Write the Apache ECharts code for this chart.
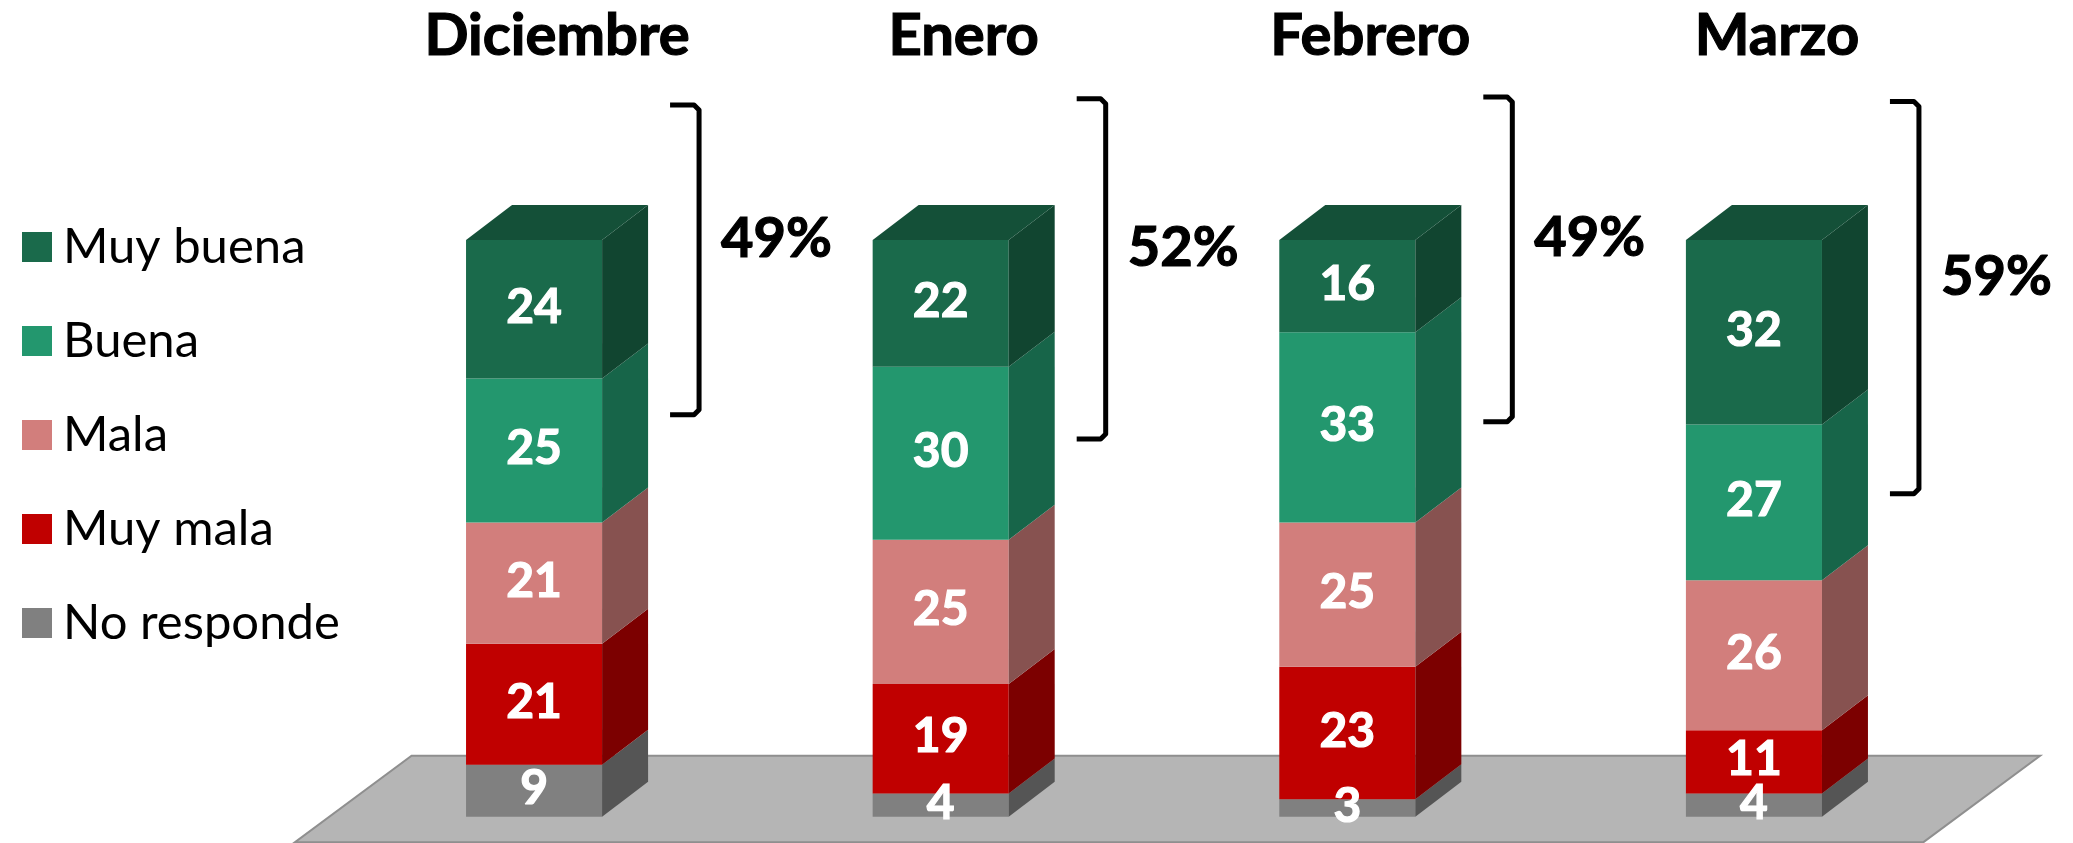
<!DOCTYPE html>
<html><head><meta charset="utf-8">
<script src="https://cdn.jsdelivr.net/npm/echarts@6/dist/echarts.min.js"></script>
<style>html,body{margin:0;padding:0;background:#fff}#c{width:2073px;height:843px}</style>
</head><body><div id="c"></div>
<script>
// ---- data ----
const months = ['Diciembre', 'Enero', 'Febrero', 'Marzo'];
const muyBuena = [24, 22, 16, 32];
const buena = [25, 30, 33, 27];
const mala = [21, 25, 25, 26];
const muyMala = [21, 19, 23, 11];
const noResponde = [9, 4, 3, 4];
const positivePct = [49, 52, 49, 59];          // Muy buena + Buena
const bracketTop = [123.4, 124.5, 124.8, 124.0]; // bracket extent (axis units)
const bracketBottom = [69.7, 65.5, 68.5, 56.0];

// ---- styling ----
const FONT = 'Lato';
const DX = 46, DY = 35;        // 3D depth offset (px)
const BAR_RATIO = 0.3346;      // bar width / band width
const segs = [
  { name: 'No responde', data: noResponde, front: '#808080', side: '#555555', top: '#6a6a6a' },
  { name: 'Muy mala',    data: muyMala,    front: '#c00000', side: '#7c0000', top: '#a00000' },
  { name: 'Mala',        data: mala,       front: '#d27e7c', side: '#875250', top: '#b06a68' },
  { name: 'Buena',       data: buena,      front: '#23976e', side: '#176549', top: '#1c7a57' },
  { name: 'Muy buena',   data: muyBuena,   front: '#1a6a4b', side: '#114530', top: '#145038' }
];

const chart = echarts.init(document.getElementById('c'), null, { renderer: 'canvas' });

const series = [];

// floor
series.push({
  type: 'custom', name: 'floor', silent: true, clip: false, z: 1,
  data: [[0]],
  renderItem: function (params, api) {
    const band = api.size([1, 0])[0];
    const c0 = api.coord([0, 0]);
    const c3 = api.coord([months.length - 1, 0]);
    const yF = c0[1] + 25.5;
    const xl = c0[0] - 0.588 * band, xr = c3[0] + 0.417 * band;
    const fx = 116.6, fy = 86.4;
    return {
      type: 'polygon',
      shape: { points: [[xl, yF], [xr, yF], [xr + fx, yF - fy], [xl + fx, yF - fy]] },
      style: { fill: '#b5b5b5', stroke: '#8f8f8f', lineWidth: 2 }
    };
  }
});

// stacked 3D segments
const bases = months.map(() => 0);
segs.forEach(function (s, k) {
  const isTop = k === segs.length - 1;
  const data = s.data.map(function (v, i) {
    const item = [i, bases[i], v];
    bases[i] += v;
    return item;
  });
  series.push({
    type: 'custom', name: s.name, clip: false, z: 3,
    itemStyle: { color: s.front },
    data: data,
    renderItem: function (params, api) {
      const i = api.value(0), base = api.value(1), v = api.value(2);
      const pB = api.coord([i, base]);
      const pT = api.coord([i, base + v]);
      const bw = api.size([1, 0])[0] * BAR_RATIO;
      const x1 = pB[0] - bw / 2, x2 = pB[0] + bw / 2;
      const yB = pB[1], yT = pT[1];
      const children = [
        { type: 'rect', shape: { x: x1, y: yT, width: bw, height: yB - yT }, style: { fill: s.front } },
        { type: 'polygon', shape: { points: [[x2, yB], [x2, yT], [x2 + DX, yT - DY], [x2 + DX, yB - DY]] }, style: { fill: s.side } }
      ];
      if (isTop) {
        children.push({ type: 'polygon', shape: { points: [[x1, yT], [x2, yT], [x2 + DX, yT - DY], [x1 + DX, yT - DY]] }, style: { fill: s.top } });
      }
      children.push({
        type: 'text', z2: 10,
        style: {
          text: String(v), x: pB[0], y: (yB + yT) / 2 - 2,
          align: 'center', verticalAlign: 'middle',
          fill: '#ffffff', font: 'bold 48px ' + FONT,
          stroke: '#ffffff', lineWidth: 1.2
        }
      });
      return { type: 'group', children: children };
    }
  });
});

// month titles
series.push({
  type: 'custom', name: 'titles', silent: true, clip: false, z: 4,
  data: months.map((m, i) => [i]),
  renderItem: function (params, api) {
    const i = api.value(0);
    const p = api.coord([i, 135.4]);
    return {
      type: 'text',
      style: { text: months[i], x: p[0] + DX / 2, y: p[1], align: 'center', verticalAlign: 'middle',
               fill: '#000', font: 'bold 58px ' + FONT, stroke: '#000', lineWidth: 1.2 }
    };
  }
});

// brackets with percentage
series.push({
  type: 'custom', name: 'brackets', silent: true, clip: false, z: 4,
  data: months.map((m, i) => [i, bracketTop[i], bracketBottom[i], positivePct[i]]),
  renderItem: function (params, api) {
    const i = api.value(0);
    const pt = api.coord([i, api.value(1)]);
    const pb = api.coord([i, api.value(2)]);
    const xv = pt[0] + 165, xt = pt[0] + 136;
    const r = 5;
    return {
      type: 'group',
      children: [
        { type: 'polyline',
          shape: { points: [[xt, pt[1]], [xv - r, pt[1]], [xv, pt[1] + r], [xv, pb[1] - r], [xv - r, pb[1]], [xt, pb[1]]] },
          style: { stroke: '#000', lineWidth: 5, fill: null, lineJoin: 'round' } },
        { type: 'text',
          style: { text: api.value(3) + '%', x: xv + 22, y: (pt[1] + pb[1]) / 2 - 21,
                   align: 'left', verticalAlign: 'middle', fill: '#000', font: 'bold 56px ' + FONT,
                   stroke: '#000', lineWidth: 1.2 } }
      ]
    };
  }
});

chart.setOption({
  animation: false,
  backgroundColor: '#ffffff',
  grid: { left: 330.75, right: 115.75, top: 9.33, bottom: 26.33 },
  xAxis: { type: 'category', data: months, show: false },
  yAxis: { type: 'value', min: 0, max: 140, show: false },
  legend: {
    data: ['Muy buena', 'Buena', 'Mala', 'Muy mala', 'No responde'],
    orient: 'vertical', left: 17, top: 217,
    icon: 'rect', itemWidth: 30, itemHeight: 30, itemGap: 44,
    textStyle: { fontFamily: FONT, fontSize: 49, lineHeight: 50, color: '#000', padding: [0, 0, 0, 6] }
  },
  series: series
});
</script>
</body></html>
